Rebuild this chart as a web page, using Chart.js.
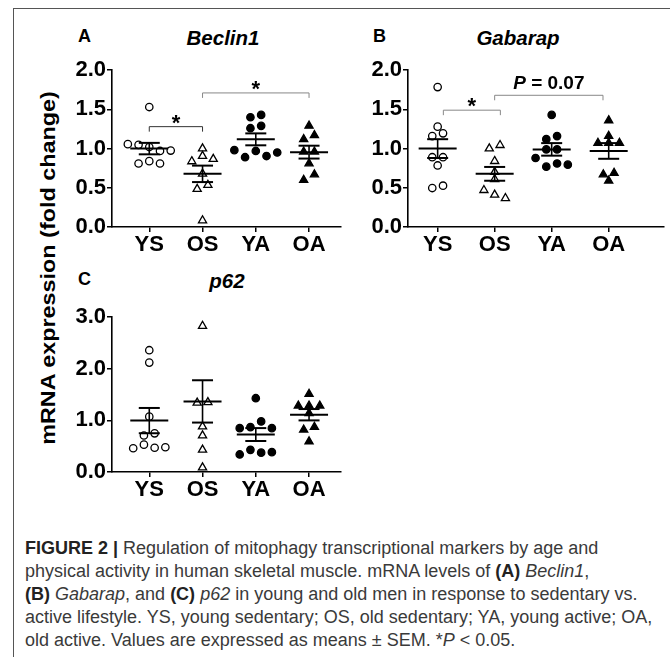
<!DOCTYPE html>
<html>
<head>
<meta charset="utf-8">
<script src="https://cdn.jsdelivr.net/npm/chart.js@4.4.0/dist/chart.umd.min.js"></script>
<style>
  body { margin: 0; background: #fff; width: 670px; height: 666px; position: relative; overflow: hidden;
         font-family: "Liberation Sans", Arial, sans-serif; }
  .frame { position: absolute; left: 13px; top: 8px; width: 700px; height: 648px;
           border-top: 1px solid #555; border-left: 1px solid #555; }
  canvas { position: absolute; }
  .letter { position: absolute; font-weight: bold; font-size: 18px; color: #000; }
  .gene { position: absolute; font-weight: bold; font-style: italic; font-size: 20.5px; color: #000;
          width: 160px; text-align: center; }
  .ytitle { position: absolute; left: -152px; top: 257px; width: 400px; text-align: center;
            font-weight: bold; font-size: 20.5px; line-height: 22px; color: #000;
            transform: rotate(-90deg) scaleX(1.14); }
  .caption { position: absolute; left: 25px; top: 537px; font-family: "Liberation Sans", Arial, sans-serif;
             font-size: 18px; line-height: 23px; color: #3a3a3a; white-space: nowrap; }
  .caption b { color: #222; }
</style>
</head>
<body>
<div class="frame"></div>

<div class="ytitle">mRNA expression (fold change)</div>

<div class="letter" style="left:78px; top:26px;">A</div>
<div class="gene" style="left:143px; top:26px;">Beclin1</div>
<canvas id="chartA" width="287" height="201" style="left:60px; top:56px;"></canvas>

<div class="letter" style="left:373px; top:26px;">B</div>
<div class="gene" style="left:438px; top:26px;">Gabarap</div>
<canvas id="chartB" width="314" height="201" style="left:356px; top:56px;"></canvas>

<div class="letter" style="left:78px; top:269px;">C</div>
<div class="gene" style="left:147px; top:269px;">p62</div>
<canvas id="chartC" width="287" height="199" style="left:60px; top:303px;"></canvas>

<div class="caption">
<b>FIGURE 2 |</b> Regulation of mitophagy transcriptional markers by age and<br>
physical activity in human skeletal muscle. mRNA levels of <b>(A)</b> <i>Beclin1</i>,<br>
<b>(B)</b> <i>Gabarap</i>, and <b>(C)</b> <i>p62</i> in young and old men in response to sedentary vs.<br>
active lifestyle. YS, young sedentary; OS, old sedentary; YA, young active; OA,<br>
old active. Values are expressed as means ± SEM. *<i>P</i> &lt; 0.05.
</div>

<script>
const groups = ['YS', 'OS', 'YA', 'OA'];

// Beclin1 (fold change)
const beclinYS = [1.53, 1.057, 1.048, 1.02, 0.97, 0.975, 0.81, 0.84, 0.81];
const beclinOS = [1.0, 0.837, 0.905, 0.867, 0.678, 0.484, 0.535, 0.083];
const beclinYA = [1.40, 1.43, 1.26, 1.29, 0.98, 0.89, 0.97, 0.905, 0.95];
const beclinOA = [1.29, 1.12, 1.17, 0.96, 0.96, 0.81, 0.60, 0.67];
const beclinMean = [1.0, 0.678, 1.118, 0.955];
const beclinSem = [0.073, 0.105, 0.076, 0.082];

// Gabarap
const gabarapYS = [1.785, 1.28, 1.16, 1.195, 0.89, 0.89, 0.785, 0.497, 0.527];
const gabarapOS = [1.0, 1.044, 0.84, 0.70, 0.61, 0.47, 0.41, 0.367];
const gabarapYA = [1.43, 1.12, 1.16, 0.99, 0.99, 0.88, 0.77, 0.81, 0.795];
const gabarapOA = [1.36, 1.16, 1.07, 1.07, 1.07, 0.67, 0.69, 0.59];
const gabarapMean = [1.0, 0.678, 0.99, 0.97];
const gabarapSem = [0.12, 0.088, 0.08, 0.10];

// p62
const p62YS = [2.36, 2.12, 1.073, 0.707, 0.75, 0.46, 0.53, 0.47, 0.48];
const p62OS = [2.83, 1.34, 1.35, 0.88, 0.707, 0.43, 0.085];
const p62YA = [1.43, 0.85, 0.87, 0.98, 0.85, 0.34, 0.43, 0.375, 0.385];
const p62OA = [1.51, 1.285, 1.285, 1.285, 1.14, 0.82, 0.87, 0.59];
const p62Mean = [0.996, 1.368, 0.726, 1.11];
const p62Sem = [0.245, 0.41, 0.125, 0.11];

const ticks2 = [0, 0.5, 1.0, 1.5, 2.0];
const ticks3 = [0, 1.0, 2.0, 3.0];

const AXIS_W = 52, AXIS_H = 30, PAD_TOP = 14;
const STEP_PX = 11, ROW_PX = 6;

// prism-like scatter: points close in y go side by side, centred on the group
function spread(values, pxPerCat, pxPerVal) {
  const order = values.map((v, i) => i).sort((a, b) => values[b] - values[a]);
  let rows = [];
  order.forEach(i => {
    const row = rows[rows.length - 1];
    if (row && (values[row[0]] - values[i]) * pxPerVal < ROW_PX) row.push(i);
    else rows.push([i]);
  });
  const layout = row => {
    const ids = row.slice().sort((a, b) => a - b);
    return ids.map((id, k) => ({ id, dx: (k - (ids.length - 1) / 2) * STEP_PX }));
  };
  const clash = (r1, r2) => layout(r1).some(p => layout(r2).some(q =>
    Math.abs(p.dx - q.dx) < ROW_PX && Math.abs(values[p.id] - values[q.id]) * pxPerVal < ROW_PX));
  let merged = true;
  while (merged) {
    merged = false;
    for (let k = 1; k < rows.length; k++) {
      if (clash(rows[k - 1], rows[k])) {
        rows[k - 1] = rows[k - 1].concat(rows[k]);
        rows.splice(k, 1);
        merged = true;
        break;
      }
    }
  }
  const off = [];
  rows.forEach(r => layout(r).forEach(p => { off[p.id] = p.dx / pxPerCat; }));
  return off;
}

const meanSem = {
  id: 'meanSem',
  afterDatasetsDraw(chart, args, opts) {
    const { ctx } = chart;
    const x = chart.scales.x, y = chart.scales.y;
    ctx.save();
    ctx.strokeStyle = '#000';
    ctx.lineCap = 'butt';
    opts.means.forEach((m, i) => {
      const cx = x.getPixelForValue(i + 1);
      const my = y.getPixelForValue(m);
      const hi = y.getPixelForValue(m + opts.sems[i]);
      const lo = y.getPixelForValue(m - opts.sems[i]);
      ctx.lineWidth = 1.6;
      ctx.beginPath(); ctx.moveTo(cx, hi); ctx.lineTo(cx, lo); ctx.stroke();
      ctx.lineWidth = 2;
      ctx.beginPath(); ctx.moveTo(cx - 19, my); ctx.lineTo(cx + 19, my); ctx.stroke();
      ctx.beginPath(); ctx.moveTo(cx - 10.5, hi); ctx.lineTo(cx + 10.5, hi); ctx.stroke();
      ctx.beginPath(); ctx.moveTo(cx - 10.5, lo); ctx.lineTo(cx + 10.5, lo); ctx.stroke();
    });
    (opts.brackets || []).forEach(b => {
      const x1 = x.getPixelForValue(b.from), x2 = x.getPixelForValue(b.to);
      const by = y.getPixelForValue(b.level);
      ctx.strokeStyle = b.color;
      ctx.lineWidth = 1;
      ctx.beginPath();
      ctx.moveTo(x1, by + 5); ctx.lineTo(x1, by); ctx.lineTo(x2, by); ctx.lineTo(x2, by + 5);
      ctx.stroke();
      ctx.fillStyle = '#000';
      ctx.textBaseline = 'alphabetic';
      const mid = (x1 + x2) / 2;
      if (b.label === '*') {
        ctx.textAlign = 'center';
        ctx.font = 'bold 22px "Liberation Sans", Arial, sans-serif';
        ctx.fillText('*', mid, by + 3);
      } else {
        const rest = ' = ' + b.label;
        ctx.font = 'bold 19px "Liberation Sans", Arial, sans-serif';
        const wRest = ctx.measureText(rest).width;
        ctx.font = 'bold italic 19px "Liberation Sans", Arial, sans-serif';
        const wP = ctx.measureText('P').width;
        const start = mid - (wP + wRest) / 2;
        ctx.textAlign = 'left';
        ctx.fillText('P', start, by - 6);
        ctx.font = 'bold 19px "Liberation Sans", Arial, sans-serif';
        ctx.fillText(rest, start + wP, by - 6);
      }
    });
    ctx.restore();
  }
};

const markerStyles = [
  { pointStyle: 'circle', fill: '#fff', radius: 3.7 },
  { pointStyle: 'triangle', fill: '#fff', radius: 4.7 },
  { pointStyle: 'circle', fill: '#000', radius: 3.7 },
  { pointStyle: 'triangle', fill: '#000', radius: 4.7 }
];

function panel(id, series, means, sems, xMin, xMax, yMax, yTicks, brackets) {
  const canvas = document.getElementById(id);
  const plotW = canvas.width - AXIS_W;
  const plotH = canvas.height - AXIS_H - PAD_TOP;
  const pxPerCat = plotW / (xMax - xMin);
  const pxPerVal = plotH / yMax;

  const datasets = series.map((vals, g) => {
    const off = spread(vals, pxPerCat, pxPerVal);
    const st = markerStyles[g];
    return {
      label: groups[g],
      data: vals.map((v, i) => ({ x: g + 1 + off[i], y: v })),
      pointStyle: st.pointStyle,
      pointRadius: st.radius,
      pointBackgroundColor: st.fill,
      pointBorderColor: '#000',
      pointBorderWidth: 1.3
    };
  });

  const tickFont = { family: '"Liberation Sans", Arial, sans-serif', size: 22, weight: 'bold' };
  const axisGrid = { drawOnChartArea: false, drawTicks: true, tickLength: 5, color: '#000', lineWidth: 1.5 };
  const axisBorder = { display: true, color: '#000', width: 1.6 };

  new Chart(canvas, {
    type: 'scatter',
    data: { datasets },
    options: {
      responsive: false,
      animation: false,
      events: [],
      layout: { padding: { top: PAD_TOP, right: 0, left: 0, bottom: 0 } },
      plugins: {
        legend: { display: false },
        tooltip: { enabled: false },
        meanSem: { means, sems, brackets }
      },
      scales: {
        x: {
          type: 'linear', min: xMin, max: xMax,
          afterBuildTicks: s => { s.ticks = groups.map((g, i) => ({ value: i + 1 })); },
          afterFit: s => { s.height = AXIS_H; },
          ticks: { callback: v => groups[v - 1], color: '#000', font: tickFont, padding: 0,
                   autoSkip: false, maxRotation: 0 },
          grid: axisGrid, border: axisBorder
        },
        y: {
          min: 0, max: yMax,
          afterBuildTicks: s => { s.ticks = yTicks.map(v => ({ value: v })); },
          afterFit: s => { s.width = AXIS_W; },
          ticks: { callback: v => v.toFixed(1), color: '#000', font: tickFont, padding: 1 },
          grid: axisGrid, border: axisBorder
        }
      }
    },
    plugins: [meanSem]
  });
}

panel('chartA', [beclinYS, beclinOS, beclinYA, beclinOA], beclinMean, beclinSem, 0.3, 4.6, 2, ticks2, [
  { from: 1, to: 2, level: 1.28, label: '*', color: '#333' },
  { from: 2, to: 4, level: 1.71, label: '*', color: '#888' }
]);
panel('chartB', [gabarapYS, gabarapOS, gabarapYA, gabarapOA], gabarapMean, gabarapSem, 0.48, 4.97, 2, ticks2, [
  { from: 1.1, to: 2.1, level: 1.49, label: '*', color: '#888' },
  { from: 2, to: 3.9, level: 1.68, label: '0.07', color: '#888' }
]);
panel('chartC', [p62YS, p62OS, p62YA, p62OA], p62Mean, p62Sem, 0.3, 4.6, 3, ticks3, []);
</script>
</body>
</html>
